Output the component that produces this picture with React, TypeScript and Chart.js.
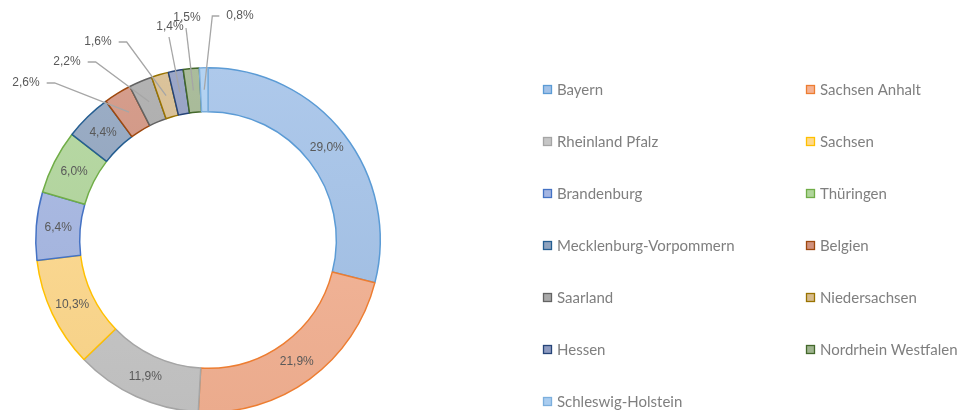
import React, { useEffect, useRef } from "react";
import { Chart, registerables } from "chart.js";

Chart.register(...registerables);

const categories = [
  "Bayern",
  "Sachsen Anhalt",
  "Rheinland Pfalz",
  "Sachsen",
  "Brandenburg",
  "Thüringen",
  "Mecklenburg-Vorpommern",
  "Belgien",
  "Saarland",
  "Niedersachsen",
  "Hessen",
  "Nordrhein Westfalen",
  "Schleswig-Holstein",
];

const shares = [29.0, 21.9, 11.9, 10.3, 6.4, 6.0, 4.4, 2.6, 2.2, 1.6, 1.4, 1.5, 0.8];

const fillColors = [
  "#a3c2e8",
  "#f5b293",
  "#c6c6c6",
  "#ffd98c",
  "#a4b5e2",
  "#b0d59a",
  "#8fa3be",
  "#d0917d",
  "#a9a9a9",
  "#d6bb8d",
  "#8e9bc0",
  "#9fb48f",
  "#aacdf0",
];

const borderColors = [
  "#5b9bd5",
  "#ed7d31",
  "#a5a5a5",
  "#ffc000",
  "#4472c4",
  "#70ad47",
  "#255e91",
  "#9e480e",
  "#636363",
  "#997300",
  "#264478",
  "#43682b",
  "#7cafdd",
];

// callout label placement for small slices: [dx, dy from ring centre, line side]
const calloutPlacement: (null | [number, number, string])[] = [
  null,
  null,
  null,
  null,
  null,
  null,
  null,
  [-182, -157, "right"],
  [-141, -178, "right"],
  [-110, -198, "right"],
  [-38, -213, "below"],
  [-21, -222, "below"],
  [32, -224, "left"],
];

function fmt(v: number) {
  return v.toFixed(1).replace(".", ",") + "%";
}

function mix(hex: string, target: number, t: number) {
  const n = parseInt(hex.slice(1), 16);
  const r = (n >> 16) & 255;
  const g = (n >> 8) & 255;
  const b = n & 255;
  const f = (c: number) => Math.round(c + (target - c) * t);
  return `rgb(${f(r)},${f(g)},${f(b)})`;
}

const labelPlugin = {
  id: "donutLabels",
  afterDatasetsDraw(chart: any) {
    const ctx = chart.ctx;
    const meta = chart.getDatasetMeta(0);
    ctx.save();
    ctx.font = "12px 'Liberation Sans', Arial, sans-serif";
    ctx.fillStyle = "#595959";
    ctx.textAlign = "center";
    ctx.textBaseline = "middle";
    meta.data.forEach((arc: any, i: number) => {
      const p = arc.getProps(["x", "y", "startAngle", "endAngle", "innerRadius", "outerRadius"], true);
      const mid = (p.startAngle + p.endAngle) / 2;
      const r = (p.innerRadius + p.outerRadius) / 2;
      const mx = p.x + Math.cos(mid) * r;
      const my = p.y + Math.sin(mid) * r;
      const text = fmt(shares[i]);
      const place = calloutPlacement[i];
      if (!place) {
        ctx.fillText(text, mx, my);
        return;
      }
      const lx = p.x + place[0];
      const ly = p.y + place[1];
      const w = ctx.measureText(text).width;
      ctx.strokeStyle = "#a6a6a6";
      ctx.lineWidth = 1.3;
      ctx.beginPath();
      if (place[2] === "right") {
        ctx.moveTo(lx + w / 2 + 7, ly);
        ctx.lineTo(lx + w / 2 + 15, ly);
      } else if (place[2] === "left") {
        ctx.moveTo(lx - w / 2 - 7, ly);
        ctx.lineTo(lx - w / 2 - 14, ly);
      } else {
        ctx.moveTo(lx - 1, ly + 10);
      }
      ctx.lineTo(mx, my);
      ctx.stroke();
      ctx.fillText(text, lx, ly);
    });
    ctx.restore();
  },
};

const legendPlugin = {
  id: "gridLegend",
  afterDraw(chart: any) {
    const ctx = chart.ctx;
    const colX = [543, 806];
    const rowY0 = 89.5;
    const rowGap = 52;
    ctx.save();
    ctx.font = "15px Lato, 'Open Sans', sans-serif";
    ctx.textAlign = "left";
    ctx.textBaseline = "middle";
    categories.forEach((name, i) => {
      const x = colX[i % 2];
      const y = rowY0 + Math.floor(i / 2) * rowGap;
      ctx.fillStyle = fillColors[i];
      ctx.fillRect(x, y - 4.5, 9, 9);
      ctx.strokeStyle = borderColors[i];
      ctx.lineWidth = 1.3;
      ctx.strokeRect(x + 0.5, y - 4, 8, 8);
      ctx.fillStyle = "#7f7f7f";
      ctx.fillText(name, x + 14, y + 1);
    });
    ctx.restore();
  },
};

export default function App() {
  const ref = useRef<HTMLCanvasElement | null>(null);
  useEffect(() => {
    if (!ref.current) return;
    const chart = new Chart(ref.current, {
      type: "doughnut",
      data: {
        labels: categories,
        datasets: [
          {
            data: shares,
            backgroundColor: (c: any) => {
              const ch = c.chart;
              const area = ch.chartArea;
              const base = fillColors[c.dataIndex];
              if (!area) return base;
              const g = ch.ctx.createLinearGradient(0, area.top, 0, area.bottom);
              g.addColorStop(0, mix(base, 255, 0.12));
              g.addColorStop(1, mix(base, 0, 0.04));
              return g;
            },
            borderColor: borderColors,
            borderWidth: 1.5,
            hoverOffset: 0,
          },
        ],
      },
      options: {
        responsive: false,
        animation: false,
        cutout: "74.5%",
        layout: { padding: { left: 35, right: 576, top: 67, bottom: 67 } },
        plugins: {
          legend: { display: false },
          tooltip: { enabled: false },
        },
      },
      plugins: [labelPlugin, legendPlugin],
    });
    return () => chart.destroy();
  }, []);
  return (
    <div
      style={{
        position: "absolute",
        left: 0,
        top: 0,
        width: 957,
        height: 410,
        overflow: "hidden",
        background: "#ffffff",
      }}
    >
      <canvas ref={ref} width={957} height={480} style={{ display: "block" }} />
    </div>
  );
}
